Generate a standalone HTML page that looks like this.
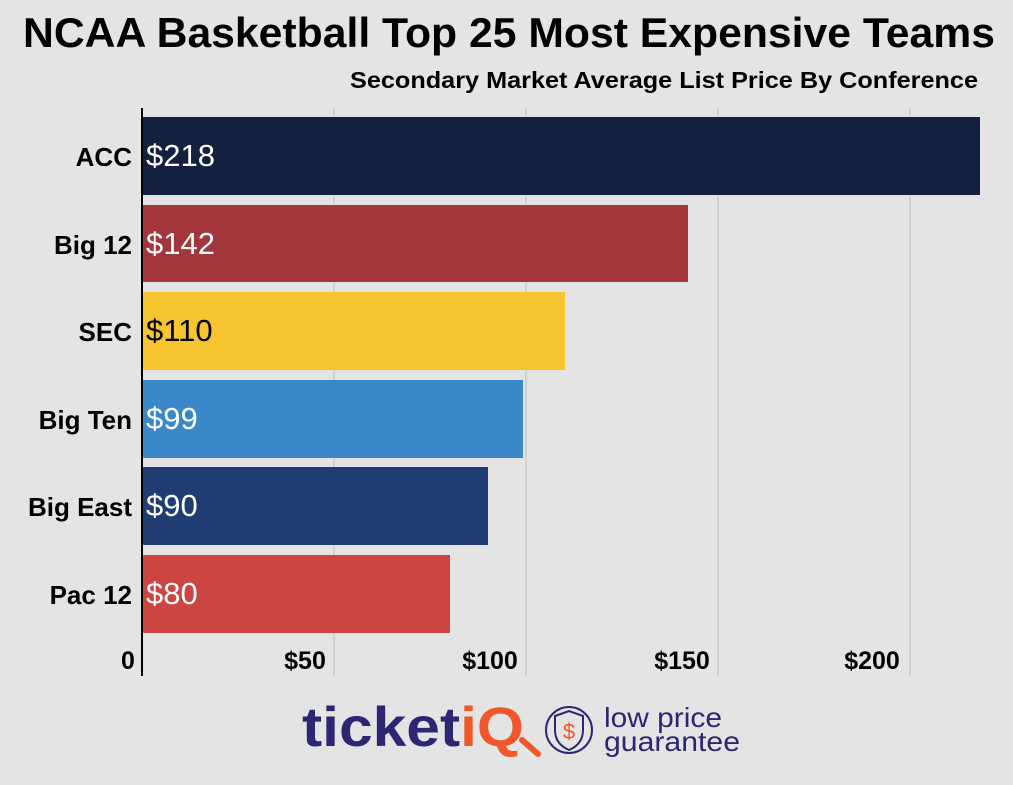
<!DOCTYPE html>
<html><head><meta charset="utf-8"><style>
body{margin:0;background:#e4e4e4;}
svg{display:block;font-family:"Liberation Sans",sans-serif;}
</style></head><body>
<svg width="1013" height="785" viewBox="0 0 1013 785">
<rect width="1013" height="785" fill="#e4e4e4"/>
<text x="23" y="47" textLength="972" lengthAdjust="spacingAndGlyphs" font-size="42" font-weight="bold" fill="#000">NCAA Basketball Top 25 Most Expensive Teams</text>
<text x="350" y="88" textLength="628" lengthAdjust="spacingAndGlyphs" font-size="23" font-weight="bold" fill="#000">Secondary Market Average List Price By Conference</text>
<g stroke="#bdbdbd" stroke-width="1">
<line x1="334" y1="108" x2="334" y2="676"/><line x1="526" y1="108" x2="526" y2="676"/>
<line x1="718" y1="108" x2="718" y2="676"/><line x1="910" y1="108" x2="910" y2="676"/>
</g>
<rect x="142" y="117" width="838" height="78" fill="#13203f"/>
<rect x="142" y="205" width="546" height="77" fill="#a3363b"/>
<rect x="142" y="292" width="423" height="78" fill="#f6c42f"/>
<rect x="142" y="380" width="381" height="78" fill="#3a88c8"/>
<rect x="142" y="467" width="346" height="78" fill="#1f3c73"/>
<rect x="142" y="555" width="308" height="78" fill="#cc4542"/>
<line x1="142" y1="108" x2="142" y2="676" stroke="#000" stroke-width="2"/>
<g font-size="31" fill="#fff">
<text x="146" y="166">$218</text><text x="146" y="254">$142</text>
<text x="146" y="341" fill="#000">$110</text><text x="146" y="429">$99</text>
<text x="146" y="516">$90</text><text x="146" y="604">$80</text>
</g>
<g font-size="26" font-weight="bold" text-anchor="end" fill="#000">
<text x="132" y="166">ACC</text><text x="132" y="254">Big 12</text><text x="132" y="341">SEC</text>
<text x="132" y="429">Big Ten</text><text x="132" y="516">Big East</text><text x="132" y="604">Pac 12</text>
</g>
<g font-size="25" font-weight="bold" text-anchor="middle" fill="#000">
<text x="128" y="669">0</text><text x="305" y="669">$50</text><text x="490" y="669">$100</text>
<text x="682" y="669">$150</text><text x="872" y="669">$200</text>
</g>
<text x="302" y="746" textLength="222" lengthAdjust="spacingAndGlyphs" font-size="56" fill="#2d2673" font-weight="bold">ticket<tspan fill="#f0572a">iQ</tspan></text>
<line x1="522" y1="740" x2="538" y2="754" stroke="#f0572a" stroke-width="6" stroke-linecap="round"/>
<circle cx="569" cy="730" r="23" fill="none" stroke="#2d2673" stroke-width="2"/>
<path d="M555 716 L569 711 L583 716 L583 730 Q583 744 569 750 Q555 744 555 730 Z" fill="none" stroke="#2d2673" stroke-width="2"/>
<text x="569" y="739" text-anchor="middle" font-size="22" fill="#f0572a">$</text>
<text x="604" y="727" textLength="118" lengthAdjust="spacingAndGlyphs" font-size="28" fill="#2d2673">low price</text>
<text x="604" y="751" textLength="136" lengthAdjust="spacingAndGlyphs" font-size="28" fill="#2d2673">guarantee</text>
</svg>
</body></html>
